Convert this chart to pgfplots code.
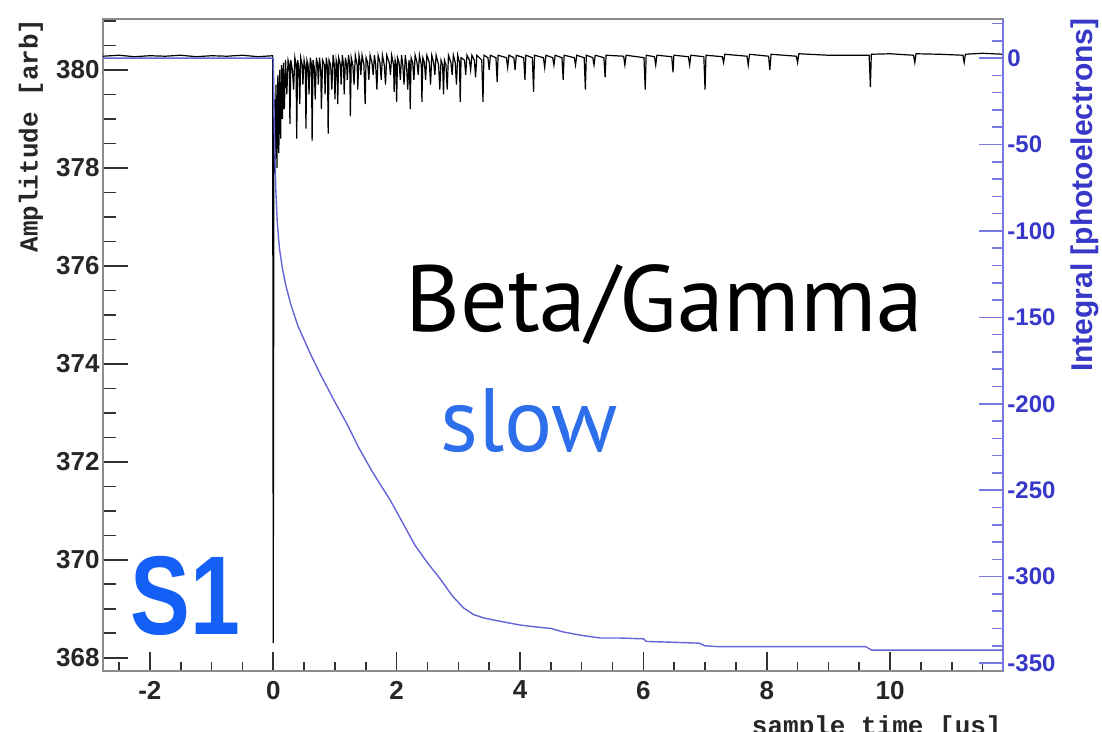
\documentclass[border=0pt]{standalone}
\usepackage{pgfplots}
\pgfplotsset{compat=1.18}
\usepackage{fontspec}
\setmainfont{Liberation Sans}
\newfontfamily\monob{Liberation Mono}
\newfontfamily\ptsans{PT Sans}
\definecolor{framegray}{RGB}{140,140,140}
\definecolor{tickdark}{RGB}{50,50,50}
\definecolor{rblue}{RGB}{55,55,200}
\definecolor{rline}{RGB}{120,120,225}
\definecolor{intblue}{RGB}{100,100,215}
\definecolor{slowblue}{RGB}{45,110,235}
\definecolor{sblue}{RGB}{20,95,245}

\pgfplotstableread{
t v
-2.76 380.28
-2.5 380.30
-2.25 380.27
-2.0 380.29
-1.75 380.28
-1.5 380.30
-1.25 380.27
-1.0 380.29
-0.75 380.28
-0.5 380.30
-0.25 380.27
-0.01 380.29
0.00 368.30
0.01 377.8
0.02 379.4
0.03 377.9
0.045 379.7
0.06 378.0
0.075 379.9
0.09 378.3
0.105 380.0
0.12 378.6
0.135 380.1
0.15 379.0
0.165 380.15
0.18 379.2
0.20 380.2
0.22 379.5
0.24 380.2
0.26 380.1
0.27 378.9
0.285 380.2
0.31 380.0
0.33 379.6
0.35 380.25
0.37 380.1
0.38 378.6
0.395 380.2
0.415 380.05
0.43 379.3
0.445 380.25
0.47 380.1
0.48 379.7
0.50 380.2
0.52 380.05
0.53 378.8
0.545 380.2
0.565 380.1
0.58 379.5
0.60 380.25
0.62 380.1
0.63 378.55
0.645 380.2
0.665 380.05
0.68 379.4
0.70 380.25
0.72 380.1
0.73 379.7
0.75 380.25
0.77 380.0
0.78 379.2
0.80 380.2
0.83 380.1
0.84 379.5
0.86 380.25
0.88 380.05
0.89 378.7
0.905 380.2
0.93 380.1
0.95 379.6
0.97 380.3
0.99 380.1
1.00 379.4
1.02 380.2
1.035 380.1
1.045 379.3
1.06 380.25
1.09 380.1
1.10 379.7
1.12 380.3
1.14 380.1
1.15 379.5
1.17 380.25
1.19 380.1
1.20 379.8
1.22 380.3
1.24 380.1
1.25 379.05
1.265 380.25
1.29 380.1
1.31 379.7
1.33 380.3
1.36 380.1
1.37 379.6
1.39 380.3
1.41 380.15
1.42 379.9
1.44 380.3
1.47 380.1
1.49 379.3
1.505 380.25
1.53 380.15
1.55 379.8
1.57 380.3
1.60 380.15
1.62 379.9
1.64 380.3
1.66 380.1
1.68 379.6
1.70 380.3
1.73 380.15
1.75 379.8
1.77 380.3
1.80 380.1
1.82 379.7
1.84 380.3
1.88 380.15
1.90 379.9
1.92 380.3
1.95 380.1
1.96 379.55
1.975 380.2
1.99 380.1
2.00 379.35
2.015 380.25
2.04 380.15
2.06 379.8
2.08 380.3
2.10 380.1
2.12 379.7
2.14 380.3
2.16 380.1
2.18 379.6
2.20 380.2
2.21 380.1
2.22 379.2
2.235 380.25
2.26 380.15
2.28 379.8
2.30 380.3
2.33 380.15
2.35 379.9
2.37 380.3
2.40 380.1
2.41 379.35
2.425 380.25
2.45 380.15
2.47 379.8
2.49 380.3
2.53 380.15
2.55 379.7
2.57 380.3
2.60 380.15
2.62 379.9
2.64 380.3
2.68 380.1
2.70 379.6
2.72 380.2
2.745 380.1
2.76 379.5
2.775 380.2
2.80 380.1
2.82 379.6
2.84 380.3
2.88 380.15
2.90 379.9
2.92 380.3
2.95 380.15
2.97 379.7
2.99 380.3
3.02 380.15
3.03 379.35
3.045 380.25
3.10 380.2
3.12 379.9
3.14 380.3
3.18 380.2
3.20 380.0
3.22 380.3
3.26 380.2
3.28 379.85
3.30 380.3
3.38 380.2
3.40 379.35
3.415 380.3
3.48 380.25
3.50 380.0
3.52 380.3
3.61 380.25
3.63 379.75
3.645 380.3
3.78 380.25
3.80 380.05
3.82 380.3
3.90 380.25
3.92 380.0
3.94 380.3
4.06 380.25
4.08 379.8
4.095 380.3
4.20 380.25
4.22 379.55
4.235 380.3
4.38 380.25
4.40 380.05
4.42 380.3
4.53 380.25
4.55 380.1
4.57 380.3
4.68 380.25
4.70 379.8
4.715 380.3
4.88 380.25
4.90 380.1
4.92 380.3
5.04 380.25
5.06 379.6
5.075 380.3
5.18 380.25
5.20 380.1
5.22 380.3
5.36 380.25
5.38 379.85
5.395 380.3
5.68 380.28
5.70 380.1
5.72 380.3
6.01 380.25
6.03 379.6
6.045 380.3
6.18 380.27
6.20 380.1
6.22 380.3
6.46 380.27
6.48 379.95
6.495 380.3
6.73 380.27
6.75 380.1
6.77 380.3
6.98 380.27
7.00 379.6
7.015 380.3
7.28 380.27
7.30 380.15
7.32 380.32
7.68 380.28
7.70 380.1
7.72 380.32
8.03 380.28
8.05 380.0
8.07 380.32
8.48 380.28
8.50 380.15
8.52 380.33
9.0 380.3
9.66 380.3
9.68 379.65
9.695 380.32
10.0 380.33
10.38 380.3
10.40 380.15
10.42 380.33
10.8 380.32
11.18 380.3
11.20 380.15
11.22 380.32
11.5 380.34
11.83 380.32
}\amplitude

\pgfplotstableread{
t q
-2.76 0
0.0 0
0.02 -45
0.04 -75
0.065 -95
0.10 -110
0.15 -122
0.2 -131
0.28 -142
0.4 -155
0.5 -163
0.6 -171
0.75 -182
0.97 -197
1.2 -212
1.38 -225
1.6 -239
1.9 -256
2.1 -269
2.3 -282
2.5 -292
2.7 -301
2.9 -311
3.08 -318
3.25 -322
3.42 -324
3.7 -326
4.0 -328
4.23 -329
4.5 -330
4.7 -332
5.0 -334
5.3 -335.5
5.6 -335.5
6.0 -336
6.05 -337.5
6.5 -338
6.9 -338.5
7.0 -340
7.2 -340.5
9.6 -340.5
9.7 -342.5
11.83 -342.5
}\integral

\begin{document}
\begin{tikzpicture}
\useasboundingbox (0,0) rectangle (551pt,366pt);
% main axis: amplitude
\begin{axis}[
  at={(51.5pt,30.5pt)}, anchor=south west,
  scale only axis, width=450pt, height=326pt,
  xmin=-2.76, xmax=11.83, ymin=367.73, ymax=381.04,
  axis line style={framegray, line width=1pt},
  xtick=\empty,
  ytick={368,370,372,374,376,378,380},
  yticklabels={368,370,372,374,376,378,380},
  minor ytick={368,368.5,...,381},
  ytick pos=left, tick align=inside,
  major tick length=12.5pt, minor tick length=6.5pt,
  tick style={tickdark, line width=0.8pt},
  yticklabel style={font=\fontsize{13}{13}\selectfont\bfseries, text=black!85, inner sep=1.5pt},
]
\addplot[black, line width=0.6pt] table[x=t, y=v] {\amplitude};
\end{axis}
% x axis ticks
\begin{axis}[
  at={(51.5pt,30.5pt)}, anchor=south west,
  scale only axis, width=450pt, height=326pt,
  xmin=-2.76, xmax=11.83, ymin=0, ymax=1,
  axis x line*=bottom, hide y axis,
  axis line style={-, framegray, line width=1pt},
  xtick={-2,0,2,4,6,8,10},
  xticklabels={-2,0,2,4,6,8,10},
  minor xtick={-2.5,-2,...,11.5},
  tick align=inside,
  major tick length=9.5pt, minor tick length=4.5pt,
  tick style={tickdark, line width=0.8pt},
  xticklabel style={font=\fontsize{13}{13}\selectfont\bfseries, text=black!85, yshift=-1.5pt},
]
\end{axis}
% right axis: integral
\begin{axis}[
  at={(51.5pt,30.5pt)}, anchor=south west,
  scale only axis, width=450pt, height=326pt,
  xmin=-2.76, xmax=11.83, ymin=-354.6, ymax=22.6,
  axis y line*=right, hide x axis,
  axis line style={-, rline, line width=0.9pt},
  ytick={-350,-300,-250,-200,-150,-100,-50,0},
  yticklabels={-350,-300,-250,-200,-150,-100,-50,0},
  minor ytick={-350,-340,...,20},
  tick align=inside,
  major tick length=12pt, minor tick length=5.5pt,
  tick style={rline, line width=0.8pt},
  yticklabel style={font=\fontsize{12}{12}\selectfont\bfseries, text=rblue, inner sep=2pt},
]
\addplot[intblue, line width=0.7pt] table[x=t, y=q] {\integral};
\end{axis}
% axis titles
\node[rotate=90, anchor=east, inner sep=0pt, font=\monob\fontsize{13}{13}\selectfont\bfseries, text=black!85] at (15.5pt,357pt) {Amplitude [arb]};
\node[anchor=east, inner sep=0pt, font=\monob\fontsize{13}{13}\selectfont\bfseries, text=black!85] at (501pt,2pt) {sample time [us]};
\node[rotate=90, anchor=east, inner sep=0pt, font=\fontsize{15}{15}\selectfont\bfseries, text=rblue] at (542.5pt,357pt) {Integral [photoelectrons]};
% annotations
\node[anchor=base west, inner sep=0pt, font=\ptsans\fontsize{47}{47}\selectfont] at (202.5pt,200pt) {Beta/Gamma};
\node[anchor=base west, inner sep=0pt, text=slowblue, font=\ptsans\fontsize{45}{45}\selectfont] at (220pt,140pt) {slow};
\node[anchor=base west, inner sep=0pt, text=sblue, font=\fontsize{56}{56}\selectfont\bfseries, xscale=0.8] at (65pt,48.5pt) {S1};
\end{tikzpicture}
\end{document}
